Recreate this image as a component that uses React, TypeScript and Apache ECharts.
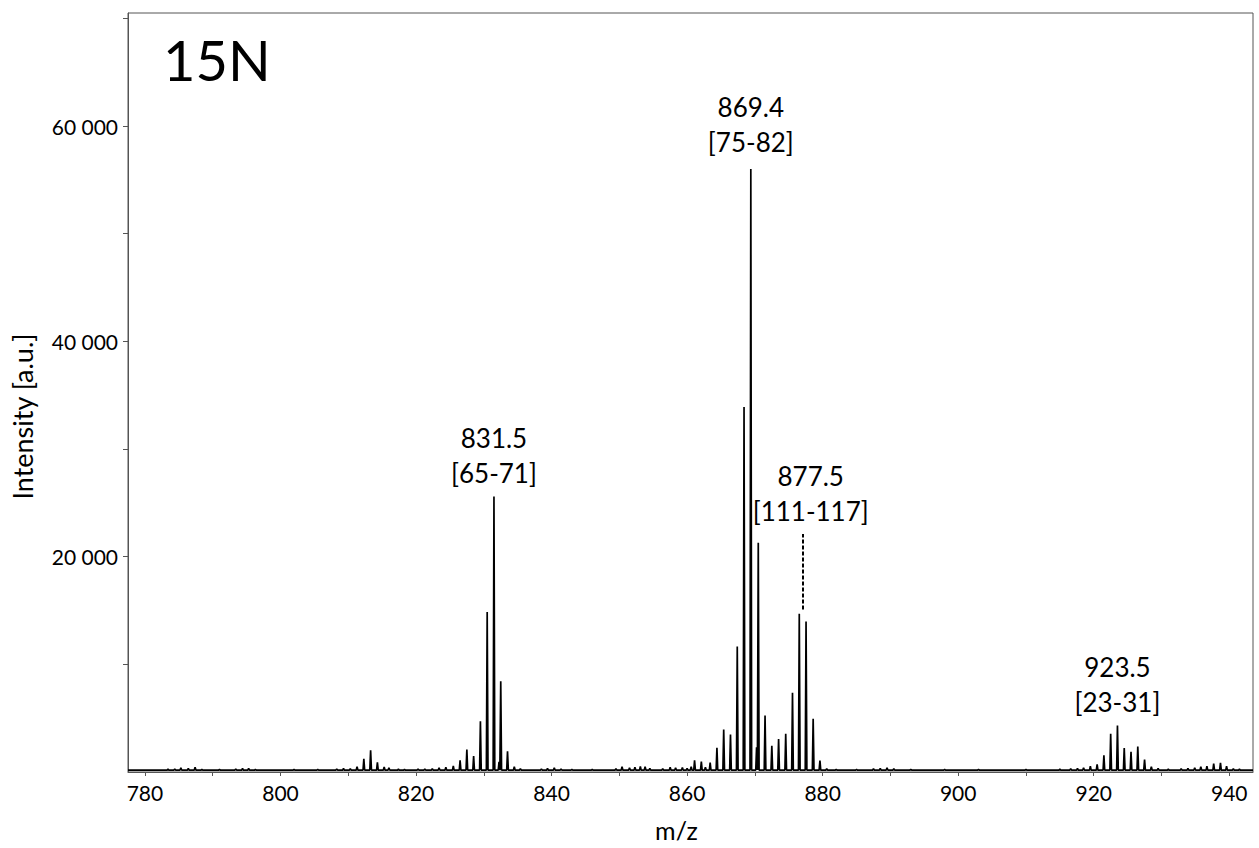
import React, { useEffect, useRef } from "react";
import * as echarts from "echarts";

// Axis extents and tick positions
const MZ_MIN = 777.5;
const MZ_MAX = 943.5;
const INTENSITY_MAX = 70500;
const xTickValues = [780, 790, 800, 810, 820, 830, 840, 850, 860, 870, 880, 890, 900, 910, 920, 930, 940];
const xLabelValues = [780, 800, 820, 840, 860, 880, 900, 920, 940];
const yTickValues = [10000, 20000, 30000, 40000, 50000, 60000, 70000];
const yLabelValues = [20000, 40000, 60000];

// Spectrum baseline intensity
const baselineLevel = 180;

// Peak lists: [m/z, intensity]
const cluster813: [number, number][] = [
  [811.3, 500], [812.3, 1220], [813.3, 2020], [814.3, 900], [815.3, 470], [816.0, 380],
];
const cluster831: [number, number][] = [
  [825.5, 560], [826.5, 1080], [827.5, 2090], [828.5, 1470], [829.5, 4720],
  [830.5, 14870], [831.5, 25600], [832.25, 950], [832.5, 8430], [833.5, 1930], [834.5, 480],
];
const cluster869: [number, number][] = [
  [861.1, 1080], [862.1, 970], [862.7, 450], [863.4, 880], [864.4, 2250], [865.4, 3940],
  [866.4, 3480], [867.4, 11650], [868.4, 33900], [869.4, 56000], [870.25, 2300], [870.5, 21300],
  [871.5, 5240], [872.5, 2430], [873.5, 3070], [874.55, 3560], [875.55, 7370], [876.55, 14700],
  [877.55, 13970], [878.6, 4950], [879.6, 1070], [880.6, 300],
];
const cluster923: [number, number][] = [
  [918.5, 400], [919.5, 550], [920.5, 700], [921.5, 1550], [922.5, 3550], [923.5, 4320],
  [924.5, 2220], [925.5, 1880], [926.5, 2370], [927.5, 1160], [928.5, 480], [929.5, 350],
];
const noisePeaks: [number, number][] = [
  [783.4, 260], [784.4, 280], [785.3, 380], [786.4, 350], [787.4, 450], [788.4, 250],
  [791.0, 230], [793.4, 280], [794.4, 330], [795.3, 350], [796.3, 250], [802.0, 230],
  [805.5, 240], [808.3, 280], [809.3, 330], [810.3, 300], [817.4, 260], [818.3, 250],
  [820.3, 290], [821.3, 280], [822.4, 300], [823.4, 380], [824.4, 440], [835.4, 300],
  [838.5, 280], [839.4, 350], [840.4, 380], [841.4, 280], [843.0, 240], [846.0, 250],
  [849.5, 300], [850.4, 480], [851.5, 380], [852.3, 450], [853.1, 520], [853.8, 480],
  [854.5, 350], [856.4, 300], [857.5, 450], [858.3, 380], [859.3, 420], [860.0, 350],
  [860.6, 500], [882.0, 230], [885.0, 240], [887.5, 300], [888.5, 350], [889.5, 380],
  [890.5, 300], [893.0, 230], [898.0, 240], [903.0, 230], [910.0, 230], [915.0, 260],
  [916.6, 300], [917.6, 350], [931.0, 260], [932.9, 300], [933.9, 350], [934.9, 400],
  [935.8, 480], [936.7, 550], [937.7, 790], [938.7, 860], [939.6, 550], [940.6, 320],
  [941.5, 260],
];

// Dashed marker for the overlapped 877.5 species: m/z and intensity span
const dashedMarker = { mz: 877.1, from: 15100, to: 22100 };

// Peak annotations: m/z and residue range
const annotations = [
  { mz: 831.5, range: "[65-71]" },
  { mz: 869.4, range: "[75-82]" },
  { mz: 877.5, range: "[111-117]" },
  { mz: 923.5, range: "[23-31]" },
];

const FONT = "Lato, 'Open Sans', sans-serif";
const PEAK_HALF_WIDTH = 0.12;

function buildSpectrum(): [number, number][] {
  const all = [...cluster813, ...cluster831, ...cluster869, ...cluster923, ...noisePeaks].sort(
    (a, b) => a[0] - b[0]
  );
  const pts: [number, number][] = [[MZ_MIN, baselineLevel]];
  for (const [mz, h] of all) {
    pts.push([mz - PEAK_HALF_WIDTH, baselineLevel]);
    pts.push([mz, h]);
    pts.push([mz + PEAK_HALF_WIDTH, baselineLevel]);
  }
  pts.push([MZ_MAX, baselineLevel]);
  return pts;
}

function formatThousands(v: number): string {
  return String(v).replace(/\B(?=(\d{3})+(?!\d))/g, " ");
}

export default function App() {
  const ref = useRef<HTMLDivElement>(null);

  useEffect(() => {
    document.body.style.margin = "0";
    if (!ref.current) return;
    const chart = echarts.init(ref.current, undefined, { renderer: "svg" });

    const allPeaks = [...cluster831, ...cluster869, ...cluster923];
    const annotationData = annotations.map((a) => {
      const found = allPeaks.find((p) => Math.abs(p[0] - a.mz) < 1e-6);
      const isDashed = !found;
      const y = found ? found[1] : dashedMarker.to;
      return {
        value: [a.mz, y],
        range: a.range,
        label: {
          distance: a.mz === 869.4 ? 10 : 6,
          offset: isDashed ? [5, 0] : [0, 0],
        },
      };
    });

    const axisLineStyle = { color: "#555", width: 1 };

    chart.setOption({
      animation: false,
      backgroundColor: "#fff",
      grid: {
        left: 128,
        right: 6,
        top: 13,
        bottom: 76,
        show: true,
        borderColor: "#555",
        borderWidth: 1,
        backgroundColor: "transparent",
      },
      xAxis: {
        type: "value",
        min: MZ_MIN,
        max: MZ_MAX,
        name: "m/z",
        nameLocation: "middle",
        nameGap: 45,
        nameTextStyle: { fontFamily: FONT, fontSize: 25, color: "#000", padding: [0, 28, 0, 0] },
        axisLine: { show: true, lineStyle: axisLineStyle },
        axisTick: { show: true, length: 4, lineStyle: axisLineStyle, customValues: xTickValues },
        axisLabel: {
          fontFamily: FONT,
          fontSize: 21,
          color: "#000",
          margin: 10,
          customValues: xLabelValues,
        },
        splitLine: { show: false },
      },
      yAxis: {
        type: "value",
        min: 0,
        max: INTENSITY_MAX,
        name: "Intensity [a.u.]",
        nameLocation: "middle",
        nameGap: 92,
        nameTextStyle: { fontFamily: FONT, fontSize: 27, color: "#000", padding: [0, 48, 0, 0] },
        axisLine: { show: true, lineStyle: axisLineStyle },
        axisTick: { show: true, length: 5, lineStyle: axisLineStyle, customValues: yTickValues },
        axisLabel: {
          fontFamily: FONT,
          fontSize: 21,
          color: "#000",
          margin: 10,
          customValues: yLabelValues,
          formatter: (v: number) => formatThousands(v),
        },
        splitLine: { show: false },
      },
      graphic: [
        {
          type: "text",
          x: 163,
          y: 59,
          style: {
            text: "15N",
            fontFamily: FONT,
            fontSize: 56,
            fill: "#000",
            verticalAlign: "middle",
          },
        },
      ],
      series: [
        {
          name: "spectrum",
          type: "line",
          data: buildSpectrum(),
          showSymbol: false,
          symbol: "none",
          lineStyle: { color: "#000", width: 1.7 },
          silent: true,
          z: 3,
        },
        {
          name: "marker",
          type: "line",
          data: [
            [dashedMarker.mz, dashedMarker.from],
            [dashedMarker.mz, dashedMarker.to],
          ],
          showSymbol: false,
          symbol: "none",
          lineStyle: { color: "#000", width: 2, type: [4, 2] },
          silent: true,
          z: 3,
        },
        {
          name: "annotations",
          type: "scatter",
          data: annotationData,
          symbolSize: 0,
          itemStyle: { color: "#000" },
          silent: true,
          label: {
            show: true,
            position: "top",
            fontFamily: FONT,
            fontSize: 26,
            lineHeight: 35,
            color: "#000",
            opacity: 1,
            textBorderWidth: 0,
            align: "center",
            formatter: (p: any) => `${p.value[0].toFixed(1)}\n${p.data.range}`,
          },
          z: 4,
        },
      ],
    });

    return () => chart.dispose();
  }, []);

  return <div ref={ref} style={{ width: 1259, height: 848 }} />;
}
